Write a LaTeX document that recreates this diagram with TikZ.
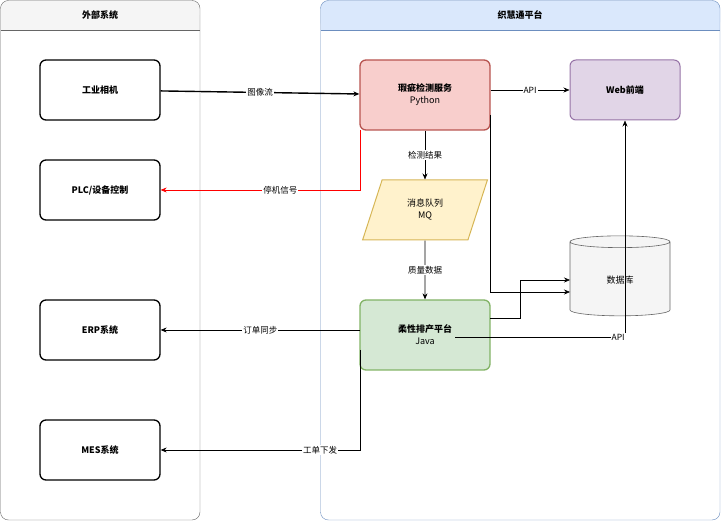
\documentclass[tikz,border=0pt]{standalone}
\usepackage{fontspec}
\setmainfont{Liberation Sans}
\newfontfamily\cjk{Noto Sans CJK SC}
\usetikzlibrary{positioning,shapes,shapes.geometric,arrows.meta}
\definecolor{redfill}{HTML}{F8CECC}\definecolor{redline}{HTML}{B85450}
\definecolor{purfill}{HTML}{E1D5E7}\definecolor{purline}{HTML}{9673A6}
\definecolor{yelfill}{HTML}{FFF2CC}\definecolor{yelline}{HTML}{D6B656}
\definecolor{grnfill}{HTML}{D5E8D4}\definecolor{grnline}{HTML}{82B366}
\definecolor{bluefill}{HTML}{DAE8FC}\definecolor{blueline}{HTML}{6C8EBF}
\definecolor{dbfill}{HTML}{F5F5F5}\definecolor{dbline}{HTML}{666666}
\tikzset{
  box/.style={draw, rounded corners=6pt, line width=1.3pt, minimum width=120pt, minimum height=60pt, font=\cjk\fontsize{9}{11}\selectfont\bfseries, align=center},
  svc/.style={box, minimum width=130pt, minimum height=70pt, font=\cjk\fontsize{9}{12}\selectfont},
  lbl/.style={fill=white, text=black, inner sep=1pt, font=\cjk\fontsize{8.5}{10}\selectfont},
  arr/.style={-{Stealth[length=6pt,width=5pt]}, line width=0.6pt},
}
\begin{document}
\begin{tikzpicture}[x=1pt,y=-1pt]
\useasboundingbox (0,0) rectangle (721,521);
% containers
\fill[rounded corners=8pt, fill=dbfill] (1,1) rectangle (199.5,30);
\fill[dbfill] (1,15) rectangle (199.5,30);
\draw[draw=dbline] (0.5,30) -- (200,30);
\draw[rounded corners=8pt, draw=dbline] (0.5,0.5) rectangle (200,520);
\node[font=\cjk\fontsize{9}{11}\selectfont\bfseries] (ext) at (100,15) {外部系统};
\fill[rounded corners=8pt, fill=bluefill] (320.5,0.5) rectangle (720,30);
\fill[bluefill] (320.5,15) rectangle (720,30);
\draw[draw=blueline] (320.5,30) -- (720,30);
\draw[rounded corners=8pt, draw=blueline] (320.5,0.5) rectangle (720,520);
\node[font=\cjk\fontsize{9}{11}\selectfont\bfseries] (zht) at (520,15) {织慧通平台};
% external nodes
\node[box] (cam) at (100,90) {工业相机};
\node[box] (plc) at (100,190) {PLC/设备控制};
\node[box] (erp) at (100,330) {ERP系统};
\node[box] (mes) at (100,450) {MES系统};
% platform nodes
\node[svc, fill=redfill, draw=redline] (det) at (425,95) {\textbf{瑕疵检测服务}\\Python};
\node[box, line width=1pt, minimum width=110pt, fill=purfill, draw=purline] (web) at (625,90) {Web前端};
\node[trapezium, trapezium left angle=72, trapezium right angle=108, draw=yelline, fill=yelfill, line width=1pt, minimum width=110pt, minimum height=60pt, inner xsep=2pt, align=center, font=\cjk\fontsize{9}{12}\selectfont] (mq) at (425,210) {消息队列\\MQ};
\node[cylinder, shape border rotate=90, aspect=0.35, draw=dbline, fill=dbfill, line width=0.6pt, minimum width=100pt, minimum height=80pt, font=\cjk\fontsize{9}{11}\selectfont] (db) at (620,280) {数据库};
\node[svc, fill=grnfill, draw=grnline] (plan) at (425,335) {\textbf{柔性排产平台}\\Java};
% connectors
\draw[arr, line width=1.4pt] (cam) -- node[lbl]{图像流} (det);
\draw[arr] (det.east |- web) -- node[lbl]{API} (web);
\draw[arr] (det) -- node[lbl]{检测结果} (mq);
\draw[arr, red] (360,130) -- (360,190) -- node[lbl, pos=0.4]{停机信号} (plc.east);
\draw[arr] (mq) -- node[lbl]{质量数据} (plan);
\draw[arr] (490,115) -- (490,292) -- (570,292);
\draw[arr] (490,318) -- (520,318) -- (520,280) -- (570,280);
\draw[arr] (455,337) -- (625,337) node[lbl, pos=0.96]{API} -- (web.south);
\draw[arr] (360,330) -- node[lbl]{订单同步} (erp.east);
\draw[arr] (360,350) -- (360,450) -- node[lbl, pos=0.2]{工单下发} (mes.east);
\end{tikzpicture}
\end{document}
